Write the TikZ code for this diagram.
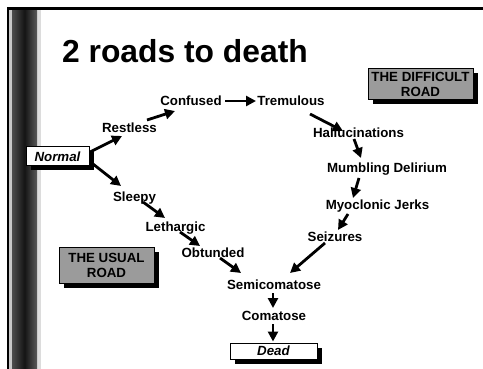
\documentclass[tikz,border=0pt]{standalone}
\usepackage{fontspec}
\setmainfont{Liberation Sans}
\usetikzlibrary{arrows.meta,calc,shadows}
\definecolor{roadgrey}{RGB}{155,155,155}
\definecolor{barlight}{RGB}{200,200,200}
\definecolor{barlight2}{RGB}{220,220,220}
\begin{document}
\begin{tikzpicture}[x=1pt,y=-1pt,
  lbl/.style={font=\fontsize{13.3}{14}\selectfont\bfseries, inner sep=0pt, anchor=base},
  arr/.style={line width=2.8pt, -{Triangle[length=10pt,width=10pt]}},
  shadowed/.style={drop shadow={shadow xshift=4.5pt,shadow yshift=-4.5pt,fill=black,opacity=1}},
  whitebox/.style={draw=black, line width=1pt, fill=white, shadowed, inner sep=0pt,
    font=\fontsize{13.3}{14}\selectfont\bfseries\itshape},
  greybox/.style={draw=black, line width=1pt, fill=roadgrey, shadowed, align=center, inner sep=0pt,
    font=\fontsize{13.3}{14.5}\selectfont\bfseries}
]
\useasboundingbox (0,0) rectangle (483,369);
% left bar
\fill[barlight] (9,10) rectangle (37,369);
\fill[barlight2] (37,10) rectangle (41,369);
\shade[left color=black!70, right color=black!65, middle color=black!92] (12,10) rectangle (37,369);
% frame
\draw[line width=2.5pt] (8,369) -- (8,8.5) -- (483,8.5);

% title
\node[font=\fontsize{31.8}{34}\selectfont\bfseries, inner sep=0pt, anchor=base west] (title) at (62,63) {2 roads to death};

% boxes
\node[whitebox, minimum width=63pt, minimum height=19pt] (normal) at (57.5,156.5) {Normal};
\node[whitebox, minimum width=87pt, minimum height=16pt] (dead) at (273.5,351) {Dead};
\node[greybox, minimum width=105pt, minimum height=31pt] (difficult) at (420.5,84.5) {THE DIFFICULT\\ROAD};
\node[greybox, minimum width=95pt, minimum height=35pt] (usual) at (106.5,265.5) {THE USUAL\\ROAD};

% labels
\node[lbl] (confused) at (191,106) {Confused};
\node[lbl] (tremulous) at (291,106) {Tremulous};
\node[lbl] (restless) at (129.5,133) {Restless};
\node[lbl] (sleepy) at (134.5,202) {Sleepy};
\node[lbl] (lethargic) at (175.5,232) {Lethargic};
\node[lbl] (obtunded) at (213,258) {Obtunded};
\node[lbl] (semi) at (274,289) {Semicomatose};
\node[lbl] (comatose) at (274,320) {Comatose};
\node[lbl] (seizures) at (335,241) {Seizures};
\node[lbl] (myoclonic) at (377.5,210) {Myoclonic Jerks};
\node[lbl] (mumbling) at (387,173) {Mumbling Delirium};
\node[lbl] (halluc) at (358.5,138) {Hallucinations};

% arrows
\draw[arr] ($(normal.center)+(32.5,-4.5)$) -- ($(restless.base)+(-7.5,3)$);
\draw[arr] ($(normal.center)+(35.5,7.5)$) -- ($(sleepy.base)+(-13.5,-16)$);
\draw[arr] ($(restless.base)+(17.5,-13)$) -- ($(confused.base)+(-16,5)$);
\draw[arr] ($(confused.base)+(34,-5)$) -- ($(tremulous.base)+(-35,-5)$);
\draw[arr] ($(tremulous.base)+(19,8)$) -- ($(halluc.base)+(-15.5,-7)$);
\draw[arr] ($(halluc.base)+(-4.5,1)$) -- ($(mumbling.base)+(-26,-15)$);
\draw[arr] ($(mumbling.base)+(-28,5)$) -- ($(myoclonic.base)+(-24.5,-12)$);
\draw[arr] ($(myoclonic.base)+(-29.5,4)$) -- ($(seizures.base)+(3,-11)$);
\draw[arr] ($(seizures.base)+(-10,2)$) -- ($(semi.base)+(16,-16)$);
\draw[arr] ($(sleepy.base)+(8.5,0)$) -- ($(lethargic.base)+(-10.5,-14)$);
\draw[arr] ($(lethargic.base)+(4.5,0)$) -- ($(obtunded.base)+(-13,-12)$);
\draw[arr] ($(obtunded.base)+(7,0)$) -- ($(semi.base)+(-33,-16)$);
\draw[arr] ($(semi.base)+(-1,4)$) -- ($(comatose.base)+(-1,-12)$);
\draw[arr] ($(comatose.base)+(-1,4)$) -- ($(dead.north)+(-0.5,-1)$);
\end{tikzpicture}
\end{document}
